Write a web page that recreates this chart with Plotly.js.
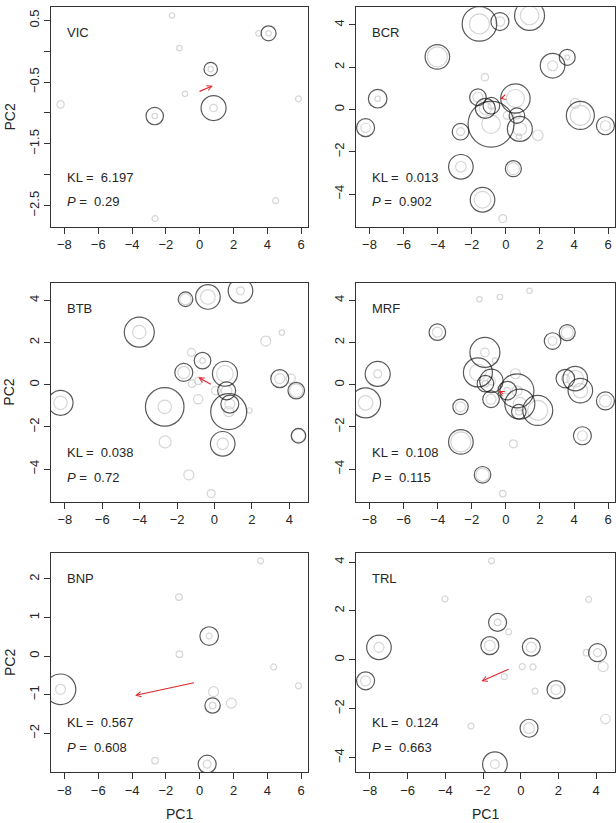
<!DOCTYPE html>
<html>
<head>
<meta charset="utf-8">
<script src="https://cdn.plot.ly/plotly-3.0.1.min.js"></script>
<style>html,body{margin:0;padding:0;background:#fff;}#chart{width:616px;height:823px;}</style>
</head>
<body>
<div id="chart"></div>
<script>
// Site coordinates in PC space (s1..s30)
const siteX = [-1.55,-0.35,1.39,-4.02,2.74,3.60,-1.23,-7.52,-8.23,-1.64,
               0.56,-1.20,-0.85,-0.87,0.08,0.65,0.82,0.76,1.87,4.07,
               4.37,5.84,-2.66,-2.64,0.44,-1.37,-0.18,-0.64,3.49,4.49];
const siteY = [4.05,4.16,4.45,2.49,2.07,2.47,1.53,0.51,-0.86,0.58,
               0.52,0.05,0.18,-0.69,-0.28,-0.29,-0.92,-1.28,-1.22,0.29,
               -0.28,-0.77,-1.05,-2.71,-2.80,-4.27,-5.16,1.14,0.29,-2.42];

const panelNames = ['VIC','BCR','BTB','MRF','BNP','TRL'];
const klValues = ['6.197','0.013','0.038','0.108','0.567','0.124'];
const pValues  = ['0.29','0.902','0.72','0.115','0.608','0.663'];

// background (grey) circle radii per site, per panel; 0 = site absent
const greyVIC = [0,0,0,0,0,0,0,0,3.7,2.7, 0,2.7,0,2.7,0,2.7,3.7,0,0,2.7, 0,3,2.7,3,0,0,0,0,3,3];
const greyBCR = [10,4.7,9.3,10,5,2.5,3.7,2.7,4.7,5, 9,6,3.3,9.3,4,3.3,6.7,2.7,5.3,5, 10,5,4,5.3,6,8.3,4,0,0,0];
const greyBTB = [5.7,7.3,4,6.7,5,2.7,4,0,6.7,6, 8.3,3.7,3.7,4.7,4.3,5.3,5,5,2.7,4.7, 6.7,0,6.7,6,5.7,5,4,2.7,5,6.7];
const greyMRF = [2.7,2.7,2.7,5,4.3,6,4.3,4,7.3,8.3, 5,3.3,4,5,3.3,5,6.7,3.3,10,8.3, 7.3,6,5,10,4,6.7,3.3,2.7,4,5];
const greyBNP = [0,0,0,0,0,3,3.3,0,5,0, 3,3.3,0,0,0,0,5,3.3,5,0, 3,3,0,3.3,4,0,0,0,0,0];
const greyTRL = [3,0,0,3,0,3,3.3,5,5,5.3, 5,0,0,3,3,3,0,3,5,4, 5,0,0,3,5.3,4.3,0,3,3.3,4.7];

// observed (black) circle radii per site, per panel
const obsVIC = [0,0,0,0,0,0,0,0,0,0, 0,0,0,0,0,6.7,12.5,0,0,7.5, 0,0,8.7,0,0,0,0,0,0,0];
const obsBCR = [17.3,9,15,12.3,12.3,8,0,9.3,9,8.3, 14.7,10,8.3,23,0,7.8,12.5,0,0,0, 14,9,8.3,12.3,8,12.3,0,0,0,0];
const obsBTB = [7.3,12.3,12.3,15,0,0,0,0,12.5,9, 12.5,0,0,0,0,9,9,18,0,0, 8.3,0,19.3,0,12.3,0,0,8.3,9,7.3];
const obsMRF = [0,0,0,8.3,8.3,8,15,12.5,15,14.5, 0,8.3,11.7,8.3,9.3,17,15,7.3,15,12.3, 12.3,9,7.7,12.3,0,8.3,0,0,9.3,9];
const obsBNP = [0,0,0,0,0,0,0,0,15.3,0, 9.3,0,0,0,0,0,0,7.7,0,0, 0,0,0,0,9,0,0,0,0,0];
const obsTRL = [0,0,0,0,0,0,9,12.3,9,9, 9,0,0,0,0,0,0,0,9,9, 0,0,0,0,9,12.3,0,0,0,0];

// shift arrows: [tailX, tailY, headX, headY]
const arrowVIC = [-0.10,-0.66,0.78,-0.56];
const arrowBCR = [-0.06,0.57,-0.35,0.51];
const arrowBTB = [-0.12,-0.02,-0.87,0.35];
const arrowMRF = [-0.06,-0.46,-0.45,-0.30];
const arrowBNP = [-0.25,-0.68,-3.82,-1.02];
const arrowTRL = [-0.57,-0.36,-2.09,-0.88];

// y tick values / labels (R drops overlapping labels)
const yTicksVIC = [-2.5,-2,-1.5,-1,-0.5,0,0.5];
const yLabelsVIC = ['\u22122.5','','\u22121.5','','\u22120.5','','0.5'];
const yTicksBNP = [-2,-1,0,1,2];
const yTicksStd = [-4,-2,0,2,4];
const xTicks = [-8,-6,-4,-2,0,2,4,6];

const greys = [greyVIC,greyBCR,greyBTB,greyMRF,greyBNP,greyTRL];
const obss = [obsVIC,obsBCR,obsBTB,obsMRF,obsBNP,obsTRL];
const arrows = [arrowVIC,arrowBCR,arrowBTB,arrowMRF,arrowBNP,arrowTRL];

const W = 616, H = 823;
const colL = [51, 308], colR = [356, 615];
const rows = [[7.3, 226.7],[282.7, 501.7],[552.7, 772.3]];
const FONT = 'Liberation Sans, Arial, sans-serif';
const TXT = '#262626';

function fmt(v){ return (v<0?'\u2212':'') + Math.abs(v); }

const data = [];
const layout = {
  width: W, height: H, autosize: false,
  margin: {l:0,r:0,t:0,b:0},
  paper_bgcolor: '#fff', plot_bgcolor: '#fff',
  showlegend: false,
  font: {family: FONT, size: 13, color: TXT},
  annotations: []
};

panelNames.forEach((name, i) => {
  const k = i + 1;
  const xa = k === 1 ? 'x' : 'x' + k;
  const ya = k === 1 ? 'y' : 'y' + k;
  const g = greys[i], o = obss[i];
  const gx=[],gy=[],gs=[],ox=[],oy=[],os=[],allx=[],ally=[];
  for (let s=0; s<siteX.length; s++){
    if (g[s]>0 || o[s]>0){ allx.push(siteX[s]); ally.push(siteY[s]); }
    if (g[s]>0){ gx.push(siteX[s]); gy.push(siteY[s]); gs.push(2*g[s]); }
    if (o[s]>0){ ox.push(siteX[s]); oy.push(siteY[s]); os.push(2*o[s]); }
  }
  data.push({type:'scatter', mode:'markers', x:gx, y:gy, xaxis:xa, yaxis:ya,
    marker:{symbol:'circle-open', size:gs, color:'#c4c4c4', line:{width:1.2, color:'#c4c4c4'}},
    hoverinfo:'skip'});
  data.push({type:'scatter', mode:'markers', x:ox, y:oy, xaxis:xa, yaxis:ya,
    marker:{symbol:'circle-open', size:os, color:'#141414', line:{width:1.2, color:'#141414'}},
    hoverinfo:'skip'});

  // R-style 4% range extension
  const pad = (arr) => { const mn=Math.min(...arr), mx=Math.max(...arr), d=(mx-mn)*0.04; return [mn-d, mx+d]; };
  const xr = pad(allx), yr = pad(ally);
  const col = (i % 2 === 0) ? colL : colR;
  const row = rows[Math.floor(i/2)];
  let yt, yl;
  if (name === 'VIC'){ yt = yTicksVIC; yl = yLabelsVIC; }
  else if (name === 'BNP'){ yt = yTicksBNP; yl = yt.map(fmt); }
  else { yt = yTicksStd; yl = yt.map(fmt); }
  const xt = xTicks.filter(v => v>=xr[0] && v<=xr[1]);
  const axBase = {showline:true, mirror:true, linecolor:'#333', linewidth:1,
    ticks:'outside', ticklen:6, tickwidth:1, tickcolor:'#333', showgrid:false, zeroline:false,
    tickfont:{family:FONT, size:13, color:TXT}, fixedrange:true};
  layout['xaxis' + (k===1?'':k)] = Object.assign({}, axBase, {
    domain:[col[0]/W, col[1]/W], anchor: ya, range: xr,
    tickmode:'array', tickvals: xt, ticktext: xt.map(fmt)});
  layout['yaxis' + (k===1?'':k)] = Object.assign({}, axBase, {
    domain:[1-row[1]/H, 1-row[0]/H], anchor: xa, range: yr,
    tickmode:'array', tickvals: yt, ticktext: yl, tickangle:-90});

  const xd = xa + ' domain', yd = ya + ' domain';
  const fx = 14/(col[1]-col[0]);
  const bh = row[1]-row[0];
  layout.annotations.push({xref:xd, yref:yd, x:fx, y:1-25.7/bh, text:name, showarrow:false,
    xanchor:'left', yanchor:'middle', font:{family:FONT,size:13,color:TXT}});
  layout.annotations.push({xref:xd, yref:yd, x:fx, y:1-169.7/bh, text:'KL =  '+klValues[i], showarrow:false,
    xanchor:'left', yanchor:'middle', font:{family:FONT,size:13,color:TXT}});
  layout.annotations.push({xref:xd, yref:yd, x:fx, y:1-194.4/bh, text:'<i>P</i> =  '+pValues[i], showarrow:false,
    xanchor:'left', yanchor:'middle', font:{family:FONT,size:13,color:TXT}});
  const a = arrows[i];
  layout.annotations.push({xref:xa, yref:ya, axref:xa, ayref:ya, x:a[2], y:a[3], ax:a[0], ay:a[1],
    text:'', showarrow:true, arrowhead:5, arrowsize:0.9, arrowwidth:1.1, arrowcolor:'#e3242b', standoff:0, startstandoff:0});

  if (i % 2 === 0){
    layout.annotations.push({xref:'paper', yref:'paper', x:9.5/W, y:1-((row[0]+row[1])/2)/H, text:'PC2',
      showarrow:false, textangle:-90, xanchor:'center', yanchor:'middle', font:{family:FONT,size:14,color:TXT}});
  }
  if (i >= 4){
    layout.annotations.push({xref:'paper', yref:'paper', x:((col[0]+col[1])/2)/W, y:1-814/H, text:'PC1',
      showarrow:false, xanchor:'center', yanchor:'middle', font:{family:FONT,size:14,color:TXT}});
  }
});

Plotly.newPlot('chart', data, layout, {staticPlot:true, displayModeBar:false});
</script>
</body>
</html>
